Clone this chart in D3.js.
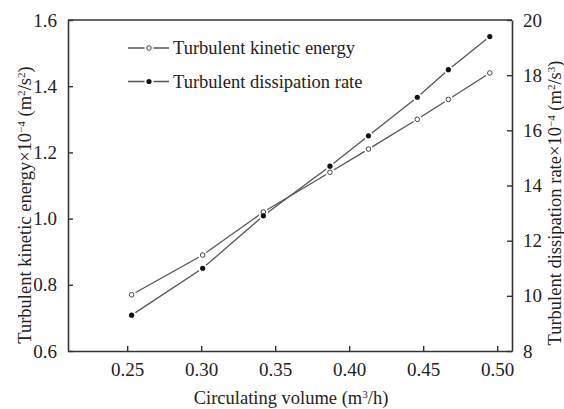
<!DOCTYPE html>
<html>
<head>
<meta charset="utf-8">
<script src="https://cdn.jsdelivr.net/npm/d3@7"></script>
<style>
  body { margin: 0; background: #fff; }
  text { font-family: "Liberation Serif", "Times New Roman", serif; fill: #222; }
</style>
</head>
<body>
<script>
// circulating volume (m3/h)
var volume = [0.253, 0.301, 0.342, 0.387, 0.413, 0.446, 0.467, 0.495];
// turbulent kinetic energy x10^-4 (m2/s2), left axis
var kinetic = [0.77, 0.89, 1.02, 1.14, 1.21, 1.30, 1.36, 1.44];
// turbulent dissipation rate x10^-4 (m2/s3), right axis
var dissipation = [9.3, 11.0, 12.9, 14.7, 15.8, 17.2, 18.2, 19.4];

var xTicks = [0.25, 0.30, 0.35, 0.40, 0.45, 0.50];
var leftTicks = [0.6, 0.8, 1.0, 1.2, 1.4, 1.6];
var rightTicks = [8, 10, 12, 14, 16, 18, 20];

var W = 564, H = 409;
var m = {top: 20, right: 52, bottom: 58, left: 68};

var svg = d3.select("body").append("svg")
  .attr("width", W)
  .attr("height", H);

var x = d3.scaleLinear().domain([0.21, 0.51]).range([m.left, W - m.right]);
var yL = d3.scaleLinear().domain([0.6, 1.6]).range([H - m.bottom, m.top]);
var yR = d3.scaleLinear().domain([8, 20]).range([H - m.bottom, m.top]);

var axisColor = "#333";
var fs = 18.5;

// axes, ticks drawn inward
var gx = svg.append("g")
  .attr("transform", "translate(0," + (H - m.bottom) + ")")
  .call(d3.axisBottom(x).tickValues(xTicks).tickFormat(d3.format(".2f"))
    .tickSizeInner(-5).tickSizeOuter(0).tickPadding(12));

var gl = svg.append("g")
  .attr("transform", "translate(" + m.left + ",0)")
  .call(d3.axisLeft(yL).tickValues(leftTicks).tickFormat(d3.format(".1f"))
    .tickSizeInner(-5).tickSizeOuter(0).tickPadding(11));

var gr = svg.append("g")
  .attr("transform", "translate(" + (W - m.right) + ",0)")
  .call(d3.axisRight(yR).tickValues(rightTicks).tickFormat(d3.format("d"))
    .tickSizeInner(-5).tickSizeOuter(0).tickPadding(11));

// top border
svg.append("line")
  .attr("x1", m.left).attr("x2", W - m.right)
  .attr("y1", m.top).attr("y2", m.top)
  .attr("stroke", axisColor).attr("stroke-width", 1.6);

[gx, gl, gr].forEach(function(g) {
  g.selectAll(".domain").attr("stroke", axisColor).attr("stroke-width", 1.6);
  g.selectAll(".tick line").attr("stroke", axisColor).attr("stroke-width", 1.4);
  g.selectAll(".tick text")
    .style("font-family", "Liberation Serif")
    .style("font-size", "19px")
    .attr("fill", "#222");
});

var lineColor = "#555";

var kData = volume.map(function(v, i) { return [v, kinetic[i]]; });
var dData = volume.map(function(v, i) { return [v, dissipation[i]]; });

var kLine = d3.line().x(function(d) { return x(d[0]); }).y(function(d) { return yL(d[1]); });
var dLine = d3.line().x(function(d) { return x(d[0]); }).y(function(d) { return yR(d[1]); });

svg.append("path").datum(kData).attr("d", kLine)
  .attr("fill", "none").attr("stroke", lineColor).attr("stroke-width", 1.3);
svg.append("path").datum(dData).attr("d", dLine)
  .attr("fill", "none").attr("stroke", lineColor).attr("stroke-width", 1.3);

// white gaps around markers
svg.selectAll(".gapk").data(kData).enter().append("circle")
  .attr("cx", function(d) { return x(d[0]); })
  .attr("cy", function(d) { return yL(d[1]); })
  .attr("r", 4.5).attr("fill", "#fff");
svg.selectAll(".gapd").data(dData).enter().append("circle")
  .attr("cx", function(d) { return x(d[0]); })
  .attr("cy", function(d) { return yR(d[1]); })
  .attr("r", 4.5).attr("fill", "#fff");

svg.selectAll(".mk").data(kData).enter().append("circle")
  .attr("cx", function(d) { return x(d[0]); })
  .attr("cy", function(d) { return yL(d[1]); })
  .attr("r", 2.3).attr("fill", "#fff").attr("stroke", "#444").attr("stroke-width", 1);
svg.selectAll(".md").data(dData).enter().append("circle")
  .attr("cx", function(d) { return x(d[0]); })
  .attr("cy", function(d) { return yR(d[1]); })
  .attr("r", 2.6).attr("fill", "#111");

// legend
var legend = [
  {label: "Turbulent kinetic energy", filled: false, y: 48},
  {label: "Turbulent dissipation rate", filled: true, y: 81.5}
];
var lg = svg.append("g");
legend.forEach(function(l) {
  lg.append("line").attr("x1", 128).attr("x2", 169).attr("y1", l.y).attr("y2", l.y)
    .attr("stroke", lineColor).attr("stroke-width", 1.3);
  lg.append("circle").attr("cx", 149).attr("cy", l.y).attr("r", 4.5).attr("fill", "#fff");
  if (l.filled) {
    lg.append("circle").attr("cx", 149).attr("cy", l.y).attr("r", 2.6).attr("fill", "#111");
  } else {
    lg.append("circle").attr("cx", 149).attr("cy", l.y).attr("r", 2.3)
      .attr("fill", "#fff").attr("stroke", "#444").attr("stroke-width", 1);
  }
  lg.append("text").attr("x", 173).attr("y", l.y + 6)
    .style("font-size", fs + "px").text(l.label);
});

// axis titles with superscripts
function title(g, parts) {
  var t = g.append("text").style("font-size", fs + "px").attr("text-anchor", "middle");
  parts.forEach(function(p) {
    var s = t.append("tspan").text(p[0]);
    if (p[1]) s.attr("baseline-shift", "super").style("font-size", (fs * 0.6) + "px");
  });
  return t;
}

title(svg.append("g").attr("transform", "translate(291,404)"),
  [["Circulating volume (m"], ["3", true], ["/h)"]]);

title(svg.append("g").attr("transform", "translate(31,205) rotate(-90)"),
  [["Turbulent kinetic energy\u00d710"], ["\u22124", true], [" (m"], ["2", true], ["/s"], ["2", true], [")"]]);

title(svg.append("g").attr("transform", "translate(561,203) rotate(-90)"),
  [["Turbulent dissipation rate\u00d710"], ["\u22124", true], [" (m"], ["2", true], ["/s"], ["3", true], [")"]]);
</script>
</body>
</html>
